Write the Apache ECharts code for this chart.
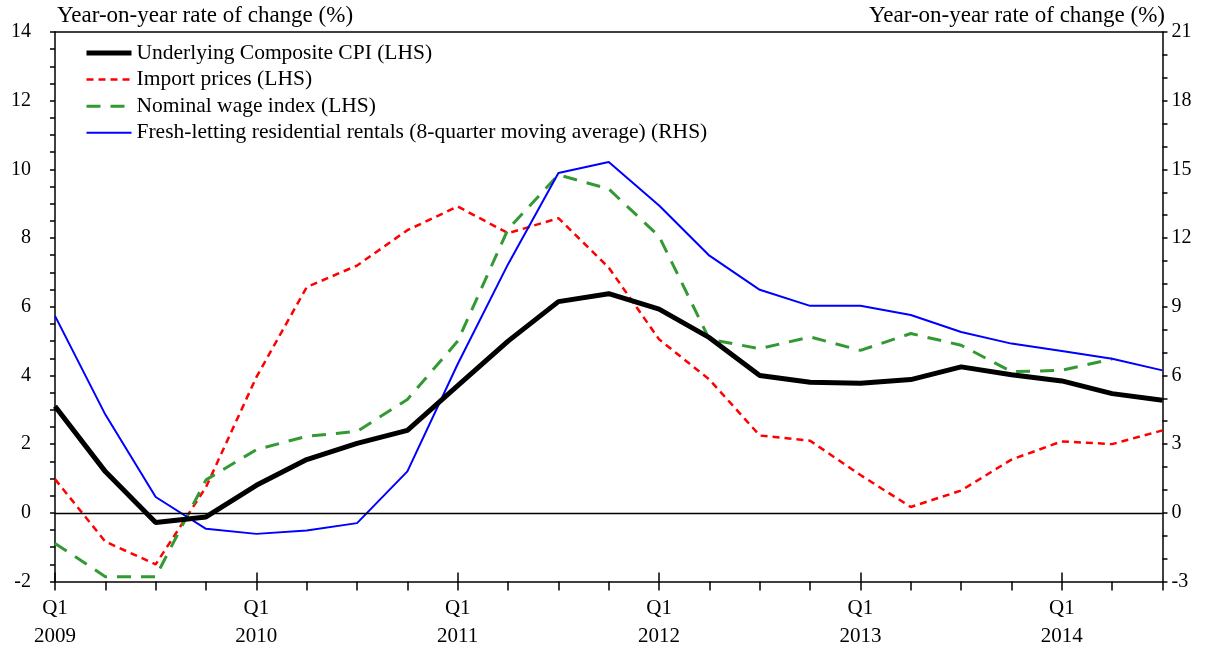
<!DOCTYPE html>
<html>
<head>
<meta charset="utf-8">
<script src="https://cdn.jsdelivr.net/npm/echarts@6/dist/echarts.min.js"></script>
<style>
html,body{margin:0;padding:0;background:#fff;}
#chart{width:1211px;height:652px;}
</style>
</head>
<body>
<div id="chart"></div>
<script>
const quarters = ['Q1 2009','Q2 2009','Q3 2009','Q4 2009','Q1 2010','Q2 2010','Q3 2010','Q4 2010',
  'Q1 2011','Q2 2011','Q3 2011','Q4 2011','Q1 2012','Q2 2012','Q3 2012','Q4 2012',
  'Q1 2013','Q2 2013','Q3 2013','Q4 2013','Q1 2014','Q2 2014','Q3 2014'];
const cpi = [3.1, 1.2, -0.28, -0.12, 0.8, 1.55, 2.02, 2.4, 3.7, 5.0, 6.15, 6.38, 5.93, 5.1, 4.0,
  3.8, 3.77, 3.88, 4.25, 4.02, 3.84, 3.47, 3.28];
const importPrices = [0.98, -0.84, -1.5, 0.75, 3.95, 6.57, 7.2, 8.23, 8.92, 8.14, 8.58, 7.14, 5.05, 3.88, 2.25,
  2.1, 1.1, 0.17, 0.65, 1.55, 2.08, 2.0, 2.4];
const wages = [-0.89, -1.86, -1.86, 0.96, 1.84, 2.23, 2.37, 3.3, 5.0, 8.26, 9.84, 9.43, 8.05, 5.05, 4.78,
  5.12, 4.73, 5.22, 4.88, 4.11, 4.15, 4.48, null];
const rentals = [8.6, 4.29, 0.69, -0.7, -0.92, -0.77, -0.45, 1.81, 6.5, 10.86, 14.84, 15.32, 13.42, 11.23, 9.74,
  9.04, 9.04, 8.64, 7.9, 7.39, 7.07, 6.73, 6.22];
const seriesNames = ['Underlying Composite CPI (LHS)', 'Import prices (LHS)', 'Nominal wage index (LHS)',
  'Fresh-letting residential rentals (8-quarter moving average) (RHS)'];
const axisTitle = 'Year-on-year rate of change (%)';

const FONT = "'Liberation Serif', 'Times New Roman', serif";
const colors = ['#000000', '#ff0000', '#339933', '#0000ff'];
const widths = [5, 2.5, 3, 2];
const dashes = ['solid', [7, 5], [14, 10], 'solid'];

const chart = echarts.init(document.getElementById('chart'), null, {renderer: 'canvas'});
const axisLineStyle = {color: '#000', width: 1.5};
chart.setOption({
  animation: false,
  backgroundColor: '#fff',
  textStyle: {fontFamily: FONT, color: '#000'},
  grid: {left: 55, right: 48.5, top: 32, bottom: 70.5, containLabel: false},
  legend: {
    orient: 'vertical', left: 79, top: 37,
    itemWidth: 45, itemHeight: 14, itemGap: 4.6,
    textStyle: {fontFamily: FONT, fontSize: 21.5, color: '#000', lineHeight: 20},
    data: seriesNames.map((n, i) => ({
      name: n,
      itemStyle: {opacity: 0},
      lineStyle: {color: colors[i], width: widths[i], type: dashes[i]}
    }))
  },
  graphic: [
    {type: 'text', left: 57, top: 4, style: {text: axisTitle, font: '23px ' + FONT, fill: '#000'}},
    {type: 'text', right: 46, top: 4, style: {text: axisTitle, font: '23px ' + FONT, fill: '#000'}}
  ],
  xAxis: [
    {
      type: 'category', data: quarters, boundaryGap: false, position: 'bottom',
      axisLine: {onZero: false, lineStyle: axisLineStyle},
      axisTick: {show: true, interval: 0, length: 9, lineStyle: {color: '#000', width: 1.5}},
      axisLabel: {
        interval: 3, margin: 13, fontFamily: FONT, fontSize: 21, color: '#000', lineHeight: 28,
        formatter: v => v.replace(' ', '\n')
      },
      splitLine: {show: false}
    },
    {
      type: 'category', data: quarters, boundaryGap: false, position: 'top',
      axisLine: {onZero: false, lineStyle: axisLineStyle}, axisTick: {show: false}, axisLabel: {show: false}, splitLine: {show: false}
    },
    {
      type: 'category', data: quarters, boundaryGap: false, position: 'bottom',
      axisLine: {onZero: false, show: false},
      axisTick: {show: true, inside: true, interval: 3, length: 9, lineStyle: {color: '#000', width: 1.5}},
      axisLabel: {show: false}, splitLine: {show: false}
    }
  ],
  yAxis: [
    {
      type: 'value', min: -2, max: 14, interval: 2, position: 'left',
      axisLine: {show: true, onZero: false, lineStyle: axisLineStyle},
      axisTick: {show: true, length: 5, lineStyle: {color: '#000', width: 1.5}},
      minorTick: {show: true, splitNumber: 4, length: 5, lineStyle: {color: '#000', width: 1.5}},
      axisLabel: {margin: 24, fontFamily: FONT, fontSize: 20, color: '#000'},
      splitLine: {show: false}
    },
    {
      type: 'value', min: -3, max: 21, interval: 3, position: 'right',
      axisLine: {show: true, onZero: false, lineStyle: axisLineStyle},
      axisTick: {show: true, length: 5, lineStyle: {color: '#000', width: 1.5}},
      minorTick: {show: true, splitNumber: 3, length: 5, lineStyle: {color: '#000', width: 1.5}},
      axisLabel: {margin: 9, fontFamily: FONT, fontSize: 20, color: '#000'},
      splitLine: {show: false}
    }
  ],
  series: [
    {
      name: seriesNames[0], type: 'line', data: cpi, yAxisIndex: 0, symbol: 'none', z: 5,
      lineStyle: {color: colors[0], width: widths[0], type: dashes[0]}, itemStyle: {color: colors[0]},
      markLine: {silent: true, symbol: 'none', label: {show: false},
        lineStyle: {color: '#000', width: 1.4, type: 'solid'}, data: [{yAxis: 0}]}
    },
    {
      name: seriesNames[1], type: 'line', data: importPrices, yAxisIndex: 0, symbol: 'none', z: 3,
      lineStyle: {color: colors[1], width: widths[1], type: dashes[1]}, itemStyle: {color: colors[1]}
    },
    {
      name: seriesNames[2], type: 'line', data: wages, yAxisIndex: 0, symbol: 'none', z: 3,
      lineStyle: {color: colors[2], width: widths[2], type: dashes[2]}, itemStyle: {color: colors[2]}
    },
    {
      name: seriesNames[3], type: 'line', data: rentals, yAxisIndex: 1, symbol: 'none', z: 4,
      lineStyle: {color: colors[3], width: widths[3], type: dashes[3]}, itemStyle: {color: colors[3]}
    }
  ]
});
</script>
</body>
</html>
